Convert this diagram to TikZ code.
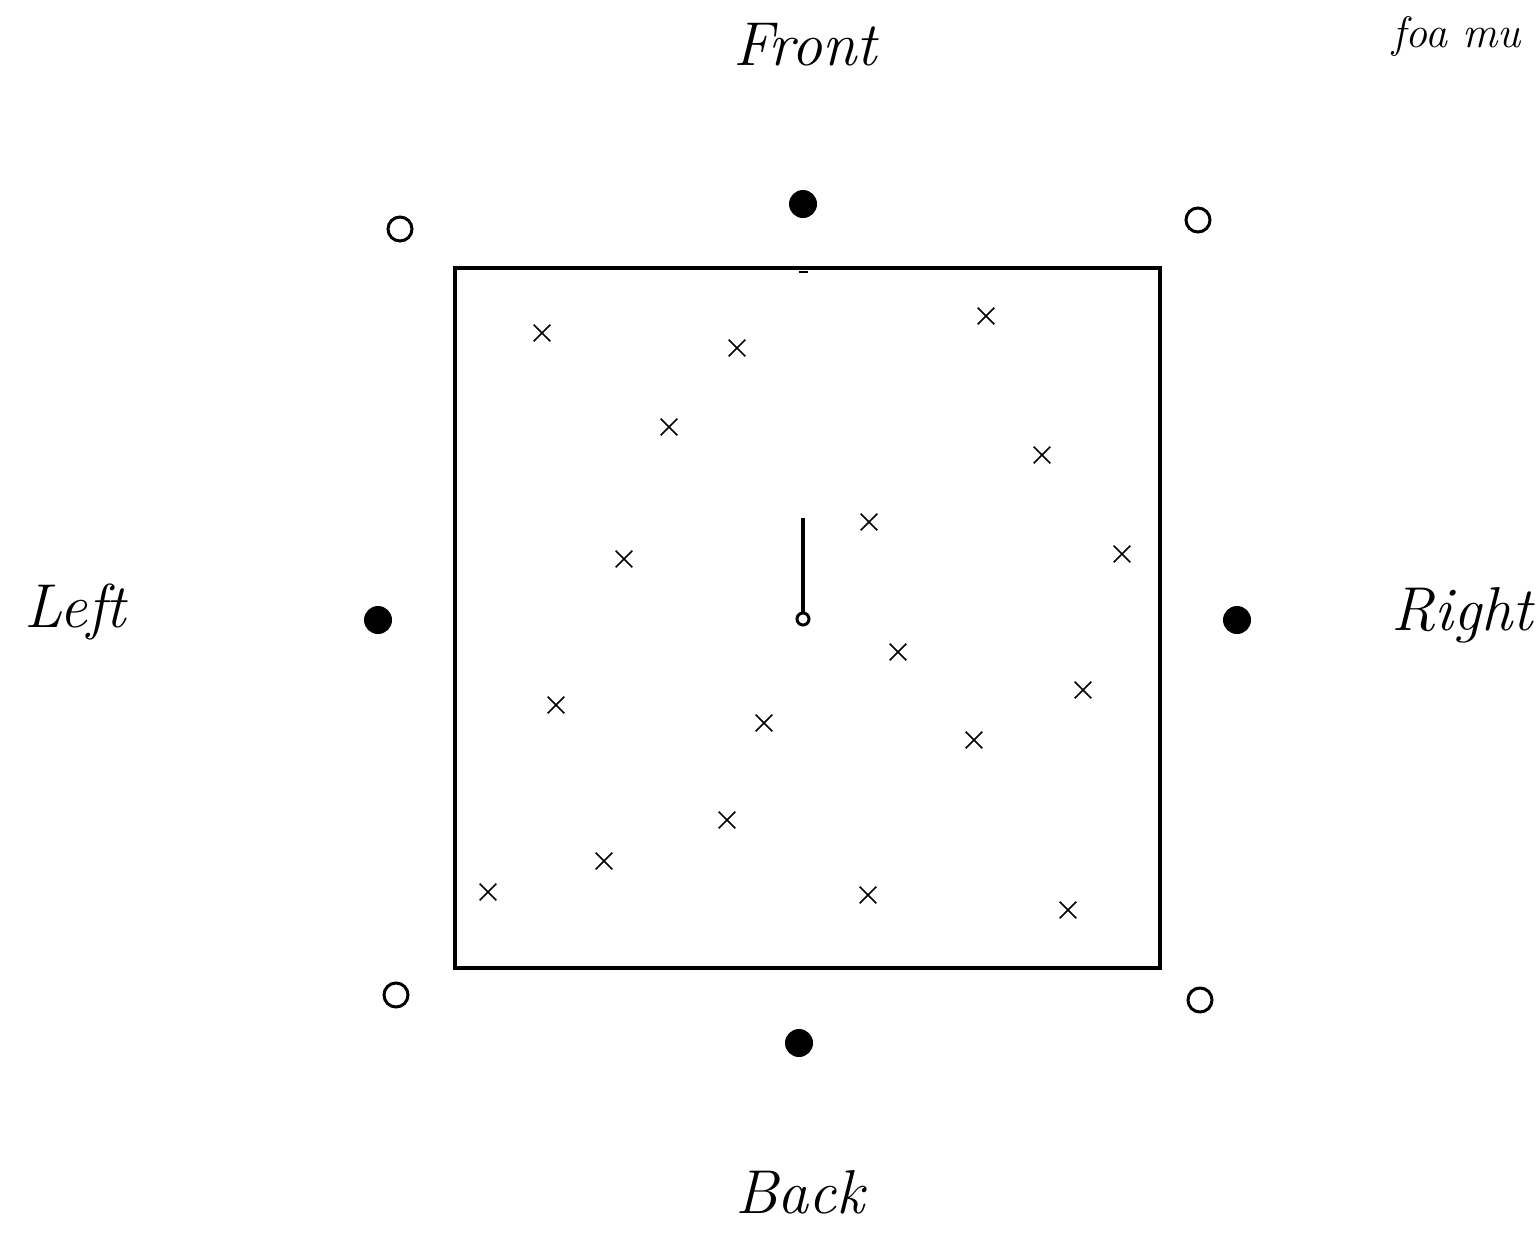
\documentclass[tikz,border=0pt]{standalone}
\usetikzlibrary{shapes.misc}
\begin{document}
\begin{tikzpicture}[x=1pt,y=-1pt,
  filldot/.style={circle,fill=black,inner sep=0pt,minimum size=28pt},
  opendot/.style={circle,draw=black,line width=3pt,inner sep=0pt,minimum size=24pt},
  xmark/.style={cross out,draw=black,line width=1.7pt,inner sep=0pt,minimum size=15pt},
  hand/.style={font=\fontsize{62}{70}\selectfont\itshape}]
\useasboundingbox (0,0) rectangle (1539,1235);
% square
\draw[line width=4pt] (455,268) rectangle (1160,968);
% small tick at top centre
\draw[line width=2pt] (799,272) -- (808,272);
% filled dots
\node[filldot] (fN) at (803,204) {};
\node[filldot] (fW) at (378,620) {};
\node[filldot] (fE) at (1237,620) {};
\node[filldot] (fS) at (799,1043) {};
% open circles
\node[opendot] (oNW) at (400,229) {};
\node[opendot] (oNE) at (1198,220) {};
\node[opendot] (oSW) at (396,995) {};
\node[opendot] (oSE) at (1200,1000) {};
% centre marker
\node[circle,draw=black,line width=3pt,inner sep=0pt,minimum size=12pt] (c) at (803,619) {};
\coordinate (ctop) at (803,518);
\draw[line width=3.5pt] (ctop) -- (c.north);
% crosses
\foreach \i/\x/\y in {1/542/333,2/737/348,3/986/316,4/669/427,5/1042/455,6/869/522,
  7/624/559,8/1122/554,9/898/652,10/556/705,11/1083/690,12/764/723,13/974/740,
  14/727/820,15/604/861,16/488/892,17/868/895,18/1068/910}
  \node[xmark] (x\i) at (\x,\y) {};
% labels
\node[hand] (front) at (805,45) {Front};
\node[hand] (left) at (75,612) {Left};
\node[hand] (right) at (1462,615) {Right};
\node[hand] (back) at (800,1192) {Back};
\node[font=\fontsize{44}{50}\selectfont\itshape,anchor=west,inner sep=0pt] (foa) at (1392,36) {foa mu};
\end{tikzpicture}
\end{document}
